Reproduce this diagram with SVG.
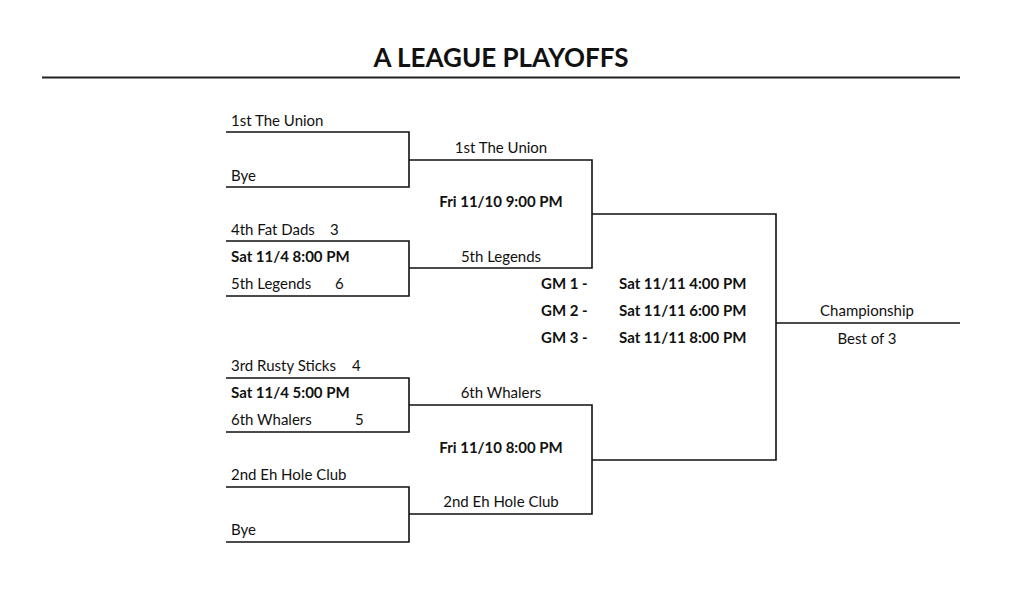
<svg xmlns="http://www.w3.org/2000/svg" width="1024" height="604" viewBox="0 0 1024 604">
<style>
text{font-family:Lato,"Open Sans",sans-serif;font-size:15px;fill:#111}
.b{font-weight:bold}
.c{text-anchor:middle}
.t{font-size:26px;font-weight:bold;text-anchor:middle}
.ln{fill:none;stroke:#111;stroke-width:1.6}
</style>
<rect width="1024" height="604" fill="#fff"/>
<g id="title">
<text class="t" x="501" y="67">A LEAGUE PLAYOFFS</text>
<line x1="42" y1="77.5" x2="960" y2="77.5" stroke="#222" stroke-width="2"/>
</g>
<g id="connectors" class="ln">
<path d="M226 132H409V187H226"/>
<path d="M226 241H409V296H226"/>
<path d="M409 160H592V268H409"/>
<path d="M226 378H409V432H226"/>
<path d="M226 487H409V542H226"/>
<path d="M409 405H592V514H409"/>
<path d="M592 214H776V460H592"/>
<path d="M776 323H960"/>
</g>
<g id="r1m1">
<text x="231" y="126">1st The Union</text>
<text x="231" y="181">Bye</text>
</g>
<g id="r1m2">
<text x="231" y="235">4th Fat Dads</text><text x="330" y="235">3</text>
<text class="b" x="231" y="262">Sat 11/4 8:00 PM</text>
<text x="231" y="289">5th Legends</text><text x="335" y="289">6</text>
</g>
<g id="r1m3">
<text x="231" y="371">3rd Rusty Sticks</text><text x="352" y="371">4</text>
<text class="b" x="231" y="398">Sat 11/4 5:00 PM</text>
<text x="231" y="425">6th Whalers</text><text x="355" y="425">5</text>
</g>
<g id="r1m4">
<text x="231" y="480">2nd Eh Hole Club</text>
<text x="231" y="535">Bye</text>
</g>
<g id="semi1">
<text class="c" x="501" y="153">1st The Union</text>
<text class="c b" x="501" y="207">Fri 11/10 9:00 PM</text>
<text class="c" x="501" y="262">5th Legends</text>
</g>
<g id="semi2">
<text class="c" x="501" y="398">6th Whalers</text>
<text class="c b" x="501" y="453">Fri 11/10 8:00 PM</text>
<text class="c" x="501" y="507">2nd Eh Hole Club</text>
</g>
<g id="final">
<text class="b" x="541" y="289">GM 1 -</text><text class="b" x="619" y="289">Sat 11/11 4:00 PM</text>
<text class="b" x="541" y="316">GM 2 -</text><text class="b" x="619" y="316">Sat 11/11 6:00 PM</text>
<text class="b" x="541" y="343">GM 3 -</text><text class="b" x="619" y="343">Sat 11/11 8:00 PM</text>
</g>
<g id="championship">
<text class="c" x="867" y="316">Championship</text>
<text class="c" x="867" y="344">Best of 3</text>
</g>
</svg>
